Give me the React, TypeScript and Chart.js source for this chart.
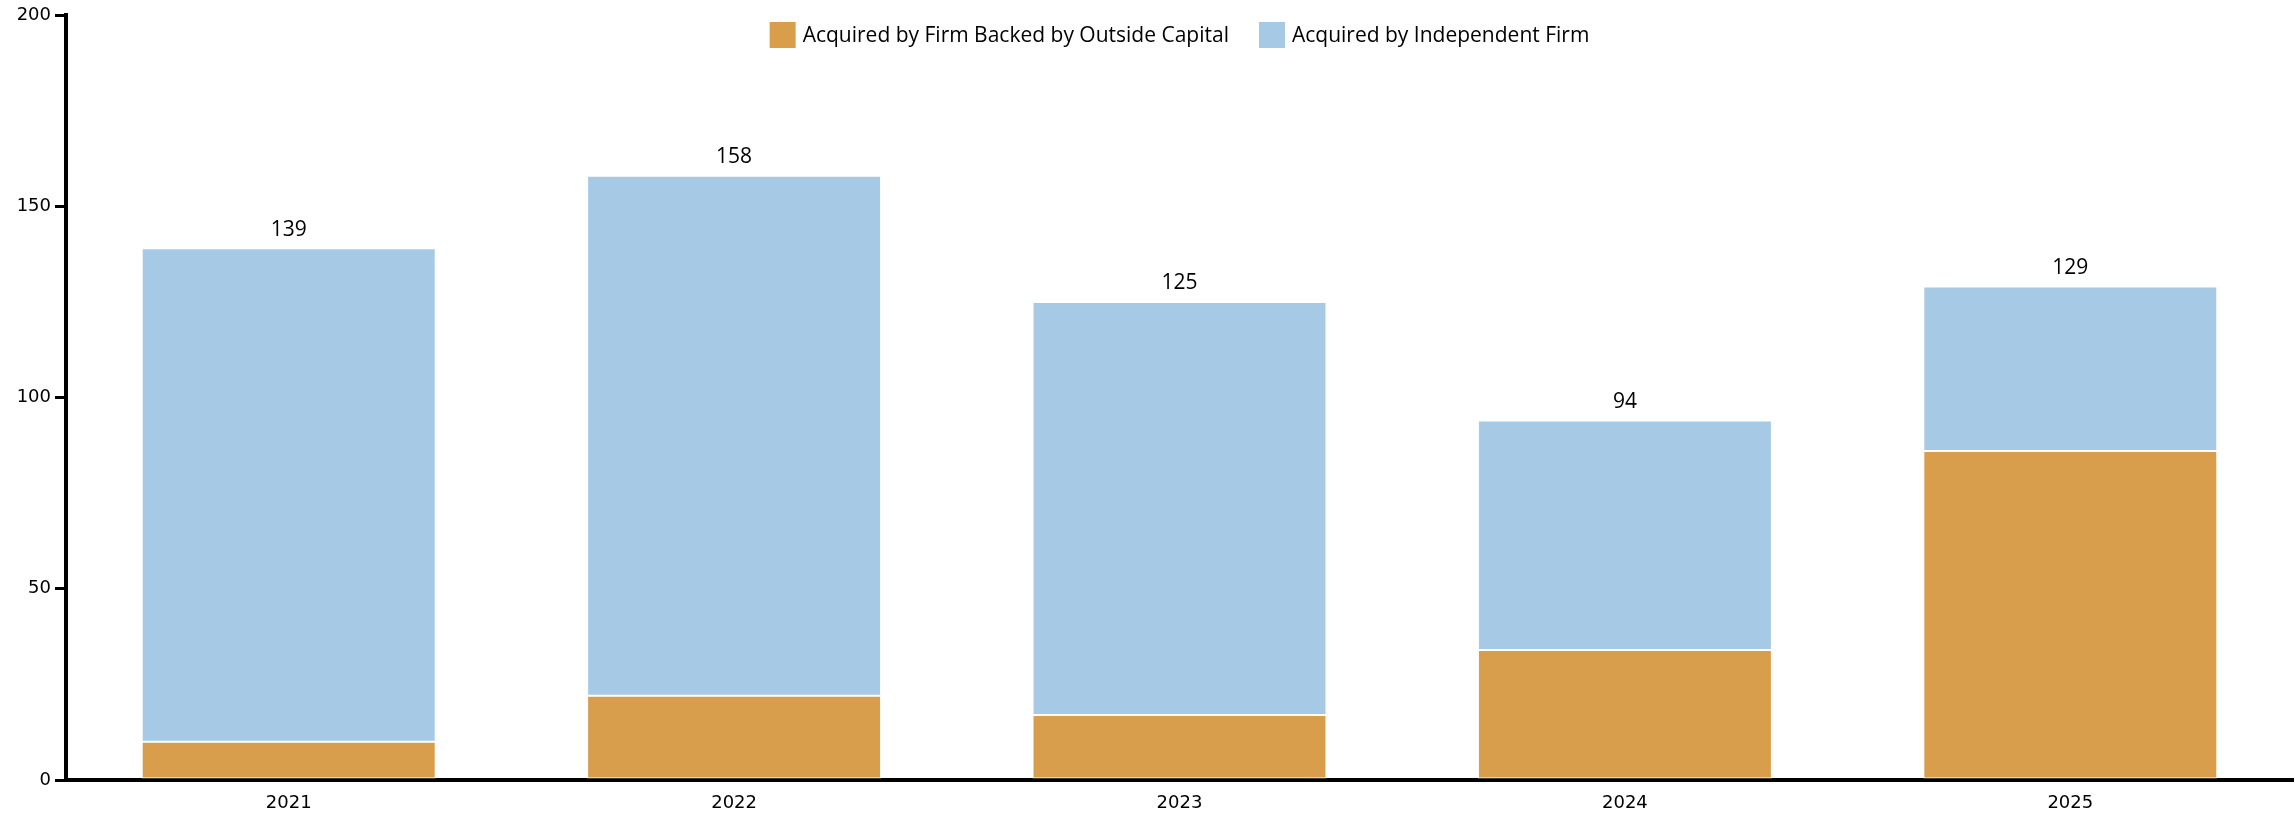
import React, { useEffect, useRef } from "react";
import { Chart, registerables } from "chart.js";

Chart.register(...registerables);

const categories = ["2021", "2022", "2023", "2024", "2025"];
const outsideCapital = [10, 22, 17, 34, 86];
const independent = [129, 136, 108, 60, 43];
const totals = [139, 158, 125, 94, 129];
const yTicks = [0, 50, 100, 150, 200];

const seriesLabels = ["Acquired by Firm Backed by Outside Capital", "Acquired by Independent Firm"];
const seriesColors = ["#D99E4B", "#A6C9E5"];

const TEXT_FONT = "'Open Sans', 'DejaVu Sans', sans-serif";
const TICK_FONT = "'DejaVu Sans', sans-serif";

const overlayPlugin = {
  id: "overlay",
  afterDatasetsDraw(chart: any) {
    const ctx = chart.ctx;
    // totals above stacks
    const topMeta = chart.getDatasetMeta(1);
    ctx.save();
    ctx.fillStyle = "#000";
    ctx.font = `21px ${TEXT_FONT}`;
    ctx.textAlign = "center";
    ctx.textBaseline = "bottom";
    topMeta.data.forEach((bar: any, i: number) => {
      ctx.fillText(String(totals[i]), bar.x, bar.y - 8);
    });
    ctx.restore();

    // legend overlay
    const ca = chart.chartArea;
    const box = 26;
    const gapBoxText = 7;
    const gapItems = 30;
    ctx.save();
    ctx.font = `21px ${TEXT_FONT}`;
    const widths = seriesLabels.map((l) => ctx.measureText(l).width);
    const total = widths.reduce((a, w) => a + box + gapBoxText + w, 0) + gapItems * (seriesLabels.length - 1);
    let x = (ca.left + ca.right) / 2 - total / 2;
    const cy = 35;
    ctx.textBaseline = "middle";
    ctx.textAlign = "left";
    seriesLabels.forEach((l, i) => {
      ctx.fillStyle = seriesColors[i];
      ctx.fillRect(x, cy - box / 2, box, box);
      x += box + gapBoxText;
      ctx.fillStyle = "#000";
      ctx.fillText(l, x, cy + 1);
      x += widths[i] + gapItems;
    });
    ctx.restore();
  },
};

export default function App() {
  const ref = useRef<HTMLCanvasElement | null>(null);
  useEffect(() => {
    document.body.style.margin = "0";
    if (!ref.current) return;
    const chart = new Chart(ref.current, {
      type: "bar",
      data: {
        labels: categories,
        datasets: [
          {
            label: seriesLabels[0],
            data: outsideCapital,
            backgroundColor: seriesColors[0],
            borderColor: "#ffffff",
            borderWidth: 1,
            borderSkipped: false,
          },
          {
            label: seriesLabels[1],
            data: independent,
            backgroundColor: seriesColors[1],
            borderColor: "#ffffff",
            borderWidth: 1,
            borderSkipped: false,
          },
        ],
      },
      options: {
        responsive: false,
        animation: false,
        layout: { padding: { top: 15, right: 2, left: 0, bottom: 0 } },
        plugins: {
          legend: { display: false },
          tooltip: { enabled: false },
        },
        datasets: {
          bar: { categoryPercentage: 1, barPercentage: 0.66 },
        },
        scales: {
          x: {
            stacked: true,
            grid: { display: false, drawTicks: false },
            border: { display: true, color: "#000", width: 4 },
            ticks: { color: "#000", font: { family: TICK_FONT, size: 18 }, padding: 13 },
            afterFit: (s: any) => {
              s.height = 36;
            },
          },
          y: {
            stacked: true,
            min: 0,
            max: 200,
            afterBuildTicks: (s: any) => {
              s.ticks = yTicks.map((v) => ({ value: v }));
            },
            ticks: { color: "#000", font: { family: TICK_FONT, size: 18 }, padding: 4 },
            grid: {
              display: true,
              drawOnChartArea: false,
              drawTicks: true,
              tickLength: 11,
              color: "#000",
              lineWidth: 3,
            },
            border: { display: true, color: "#000", width: 4 },
            afterFit: (s: any) => {
              s.width = 66;
            },
          },
        },
      },
      plugins: [overlayPlugin],
    });
    return () => chart.destroy();
  }, []);
  return (
    <div style={{ width: 2295, height: 816 }}>
      <canvas ref={ref} width={2295} height={816} style={{ display: "block" }} />
    </div>
  );
}
